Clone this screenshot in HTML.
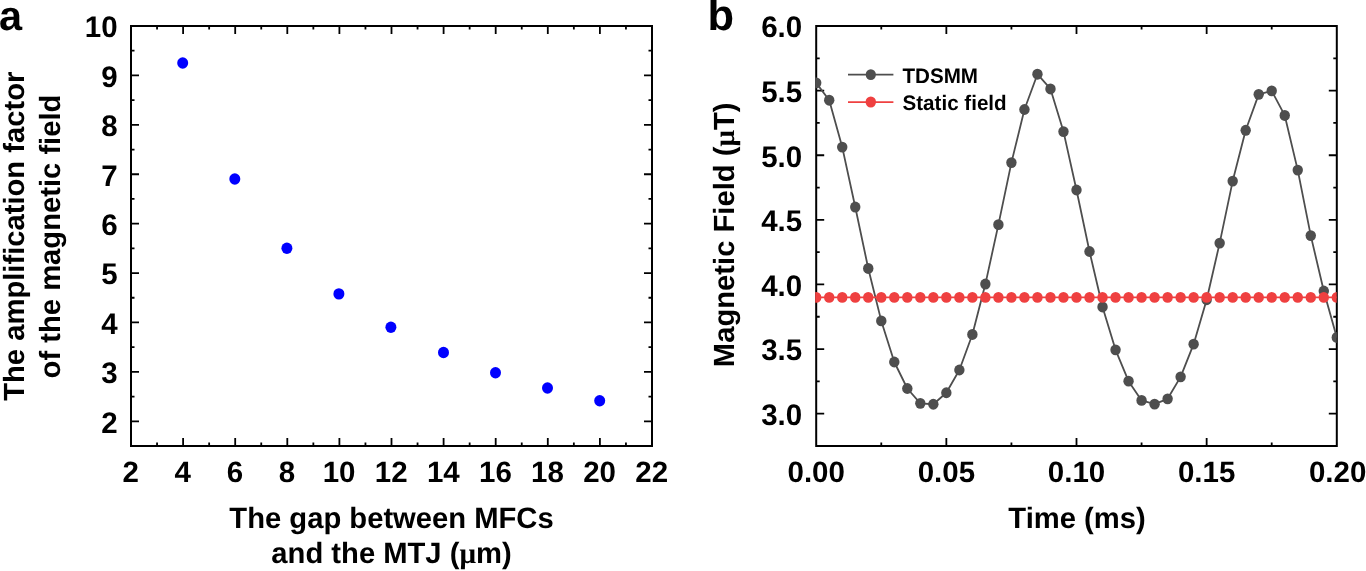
<!DOCTYPE html><html><head><meta charset="utf-8"><style>html,body{margin:0;padding:0;background:#fff;}body{width:1366px;height:571px;overflow:hidden;}svg{display:block;will-change:transform;}text{font-family:"Liberation Sans",sans-serif;font-weight:bold;fill:#000;text-rendering:geometricPrecision;}</style></head><body><svg width="1366" height="571" viewBox="0 0 1366 571"><rect width="1366" height="571" fill="#fff"/><path d="M183.1 446V438M183.1 26V34M235.2 446V438M235.2 26V34M287.3 446V438M287.3 26V34M339.4 446V438M339.4 26V34M391.5 446V438M391.5 26V34M443.6 446V438M443.6 26V34M495.7 446V438M495.7 26V34M547.8 446V438M547.8 26V34M599.9 446V438M599.9 26V34M157.05 446V442.5M157.05 26V29.5M209.15 446V442.5M209.15 26V29.5M261.25 446V442.5M261.25 26V29.5M313.35 446V442.5M313.35 26V29.5M365.45 446V442.5M365.45 26V29.5M417.55 446V442.5M417.55 26V29.5M469.65 446V442.5M469.65 26V29.5M521.75 446V442.5M521.75 26V29.5M573.85 446V442.5M573.85 26V29.5M625.95 446V442.5M625.95 26V29.5M131 421.29H139M652 421.29H644M131 371.88H139M652 371.88H644M131 322.47H139M652 322.47H644M131 273.06H139M652 273.06H644M131 223.65H139M652 223.65H644M131 174.24H139M652 174.24H644M131 124.82H139M652 124.82H644M131 75.41H139M652 75.41H644M131 396.59H134.5M652 396.59H648.5M131 347.18H134.5M652 347.18H648.5M131 297.76H134.5M652 297.76H648.5M131 248.35H134.5M652 248.35H648.5M131 198.94H134.5M652 198.94H648.5M131 149.53H134.5M652 149.53H648.5M131 100.12H134.5M652 100.12H648.5M131 50.71H134.5M652 50.71H648.5" stroke="#000" stroke-width="1.8" fill="none"/><rect x="131" y="26" width="521" height="420" fill="none" stroke="#000" stroke-width="2.0"/><ellipse cx="182.7" cy="63" rx="5.5" ry="5.7" fill="#0000ff"/><ellipse cx="234.8" cy="179" rx="5.5" ry="5.7" fill="#0000ff"/><ellipse cx="286.9" cy="248.3" rx="5.5" ry="5.7" fill="#0000ff"/><ellipse cx="338.9" cy="293.9" rx="5.5" ry="5.7" fill="#0000ff"/><ellipse cx="390.9" cy="327.3" rx="5.5" ry="5.7" fill="#0000ff"/><ellipse cx="443.5" cy="352.5" rx="5.5" ry="5.7" fill="#0000ff"/><ellipse cx="495.5" cy="372.7" rx="5.5" ry="5.7" fill="#0000ff"/><ellipse cx="547.5" cy="388" rx="5.5" ry="5.7" fill="#0000ff"/><ellipse cx="599.7" cy="400.8" rx="5.5" ry="5.7" fill="#0000ff"/><text transform="translate(117.6 432.59) scale(1 1.01)" font-size="29.5" text-anchor="end">2</text><text transform="translate(117.6 383.18) scale(1 1.01)" font-size="29.5" text-anchor="end">3</text><text transform="translate(117.6 333.77) scale(1 1.01)" font-size="29.5" text-anchor="end">4</text><text transform="translate(117.6 284.36) scale(1 1.01)" font-size="29.5" text-anchor="end">5</text><text transform="translate(117.6 234.95) scale(1 1.01)" font-size="29.5" text-anchor="end">6</text><text transform="translate(117.6 185.54) scale(1 1.01)" font-size="29.5" text-anchor="end">7</text><text transform="translate(117.6 136.12) scale(1 1.01)" font-size="29.5" text-anchor="end">8</text><text transform="translate(117.6 86.71) scale(1 1.01)" font-size="29.5" text-anchor="end">9</text><text transform="translate(117.6 37.3) scale(1 1.01)" font-size="29.5" text-anchor="end">10</text><text transform="translate(130.7 481.8) scale(1 1.0)" font-size="29.5" text-anchor="middle">2</text><text transform="translate(182.8 481.8) scale(1 1.0)" font-size="29.5" text-anchor="middle">4</text><text transform="translate(234.9 481.8) scale(1 1.0)" font-size="29.5" text-anchor="middle">6</text><text transform="translate(287 481.8) scale(1 1.0)" font-size="29.5" text-anchor="middle">8</text><text transform="translate(339.1 481.8) scale(1 1.0)" font-size="29.5" text-anchor="middle">10</text><text transform="translate(391.2 481.8) scale(1 1.0)" font-size="29.5" text-anchor="middle">12</text><text transform="translate(443.3 481.8) scale(1 1.0)" font-size="29.5" text-anchor="middle">14</text><text transform="translate(495.4 481.8) scale(1 1.0)" font-size="29.5" text-anchor="middle">16</text><text transform="translate(547.5 481.8) scale(1 1.0)" font-size="29.5" text-anchor="middle">18</text><text transform="translate(599.6 481.8) scale(1 1.0)" font-size="29.5" text-anchor="middle">20</text><text transform="translate(651.7 481.8) scale(1 1.0)" font-size="29.5" text-anchor="middle">22</text><text transform="translate(391.5 527.8) scale(1 1.01)" font-size="29.2" text-anchor="middle">The gap between MFCs</text><text transform="translate(391.5 563.3) scale(1 1.01)" font-size="29.2" text-anchor="middle">and the MTJ (<tspan style="font-family:'Liberation Serif'">μ</tspan>m)</text><text transform="translate(24.1 236.2) rotate(-90)" font-size="29.2" text-anchor="middle">The amplification factor</text><text transform="translate(59.6 236.5) rotate(-90)" font-size="29.2" text-anchor="middle">of the magnetic field</text><text x="-1.0" y="30.4" font-size="41.5">a</text><path d="M946.35 446V438M946.35 26V34M1076.5 446V438M1076.5 26V34M1206.65 446V438M1206.65 26V34M881.28 446V442.5M881.28 26V29.5M1011.43 446V442.5M1011.43 26V29.5M1141.58 446V442.5M1141.58 26V29.5M1271.72 446V442.5M1271.72 26V29.5M816.2 413.69H824.2M1336.8 413.69H1328.8M816.2 349.08H824.2M1336.8 349.08H1328.8M816.2 284.46H824.2M1336.8 284.46H1328.8M816.2 219.85H824.2M1336.8 219.85H1328.8M816.2 155.23H824.2M1336.8 155.23H1328.8M816.2 90.62H824.2M1336.8 90.62H1328.8M816.2 381.38H819.7M1336.8 381.38H1333.3M816.2 316.77H819.7M1336.8 316.77H1333.3M816.2 252.15H819.7M1336.8 252.15H1333.3M816.2 187.54H819.7M1336.8 187.54H1333.3M816.2 122.92H819.7M1336.8 122.92H1333.3M816.2 58.31H819.7M1336.8 58.31H1333.3" stroke="#000" stroke-width="1.8" fill="none"/><rect x="816.2" y="26" width="520.6" height="420" fill="none" stroke="#000" stroke-width="2.0"/><clipPath id="cb"><rect x="815.2" y="25" width="521.5" height="422"/></clipPath><g clip-path="url(#cb)"><polyline points="816.2,82.86 829.22,100.18 842.23,147.09 855.25,207.05 868.26,268.44 881.28,320.9 894.29,362 907.31,388.49 920.32,403.35 933.34,404.26 946.35,392.76 959.37,370.01 972.38,334.47 985.39,284.07 998.41,224.63 1011.42,162.6 1024.44,109.48 1037.45,74.2 1050.47,88.94 1063.49,131.58 1076.5,189.99 1089.51,251.51 1102.53,306.95 1115.55,349.85 1128.56,381.13 1141.58,400.38 1154.59,404.13 1167.61,398.83 1180.62,376.86 1193.63,344.17 1206.65,299.71 1219.66,243.11 1232.68,181.08 1245.69,130.29 1258.71,94.36 1271.72,90.87 1284.74,115.43 1297.75,170.09 1310.77,235.61 1323.78,291.05 1336.8,337.45" fill="none" stroke="#4e4e4e" stroke-width="1.8" stroke-linejoin="round"/><ellipse cx="816.2" cy="82.86" rx="5.2" ry="5.45" fill="#4e4e4e"/><ellipse cx="829.22" cy="100.18" rx="5.2" ry="5.45" fill="#4e4e4e"/><ellipse cx="842.23" cy="147.09" rx="5.2" ry="5.45" fill="#4e4e4e"/><ellipse cx="855.25" cy="207.05" rx="5.2" ry="5.45" fill="#4e4e4e"/><ellipse cx="868.26" cy="268.44" rx="5.2" ry="5.45" fill="#4e4e4e"/><ellipse cx="881.28" cy="320.9" rx="5.2" ry="5.45" fill="#4e4e4e"/><ellipse cx="894.29" cy="362" rx="5.2" ry="5.45" fill="#4e4e4e"/><ellipse cx="907.31" cy="388.49" rx="5.2" ry="5.45" fill="#4e4e4e"/><ellipse cx="920.32" cy="403.35" rx="5.2" ry="5.45" fill="#4e4e4e"/><ellipse cx="933.34" cy="404.26" rx="5.2" ry="5.45" fill="#4e4e4e"/><ellipse cx="946.35" cy="392.76" rx="5.2" ry="5.45" fill="#4e4e4e"/><ellipse cx="959.37" cy="370.01" rx="5.2" ry="5.45" fill="#4e4e4e"/><ellipse cx="972.38" cy="334.47" rx="5.2" ry="5.45" fill="#4e4e4e"/><ellipse cx="985.39" cy="284.07" rx="5.2" ry="5.45" fill="#4e4e4e"/><ellipse cx="998.41" cy="224.63" rx="5.2" ry="5.45" fill="#4e4e4e"/><ellipse cx="1011.42" cy="162.6" rx="5.2" ry="5.45" fill="#4e4e4e"/><ellipse cx="1024.44" cy="109.48" rx="5.2" ry="5.45" fill="#4e4e4e"/><ellipse cx="1037.45" cy="74.2" rx="5.2" ry="5.45" fill="#4e4e4e"/><ellipse cx="1050.47" cy="88.94" rx="5.2" ry="5.45" fill="#4e4e4e"/><ellipse cx="1063.49" cy="131.58" rx="5.2" ry="5.45" fill="#4e4e4e"/><ellipse cx="1076.5" cy="189.99" rx="5.2" ry="5.45" fill="#4e4e4e"/><ellipse cx="1089.51" cy="251.51" rx="5.2" ry="5.45" fill="#4e4e4e"/><ellipse cx="1102.53" cy="306.95" rx="5.2" ry="5.45" fill="#4e4e4e"/><ellipse cx="1115.55" cy="349.85" rx="5.2" ry="5.45" fill="#4e4e4e"/><ellipse cx="1128.56" cy="381.13" rx="5.2" ry="5.45" fill="#4e4e4e"/><ellipse cx="1141.58" cy="400.38" rx="5.2" ry="5.45" fill="#4e4e4e"/><ellipse cx="1154.59" cy="404.13" rx="5.2" ry="5.45" fill="#4e4e4e"/><ellipse cx="1167.61" cy="398.83" rx="5.2" ry="5.45" fill="#4e4e4e"/><ellipse cx="1180.62" cy="376.86" rx="5.2" ry="5.45" fill="#4e4e4e"/><ellipse cx="1193.63" cy="344.17" rx="5.2" ry="5.45" fill="#4e4e4e"/><ellipse cx="1206.65" cy="299.71" rx="5.2" ry="5.45" fill="#4e4e4e"/><ellipse cx="1219.66" cy="243.11" rx="5.2" ry="5.45" fill="#4e4e4e"/><ellipse cx="1232.68" cy="181.08" rx="5.2" ry="5.45" fill="#4e4e4e"/><ellipse cx="1245.69" cy="130.29" rx="5.2" ry="5.45" fill="#4e4e4e"/><ellipse cx="1258.71" cy="94.36" rx="5.2" ry="5.45" fill="#4e4e4e"/><ellipse cx="1271.72" cy="90.87" rx="5.2" ry="5.45" fill="#4e4e4e"/><ellipse cx="1284.74" cy="115.43" rx="5.2" ry="5.45" fill="#4e4e4e"/><ellipse cx="1297.75" cy="170.09" rx="5.2" ry="5.45" fill="#4e4e4e"/><ellipse cx="1310.77" cy="235.61" rx="5.2" ry="5.45" fill="#4e4e4e"/><ellipse cx="1323.78" cy="291.05" rx="5.2" ry="5.45" fill="#4e4e4e"/><ellipse cx="1336.8" cy="337.45" rx="5.2" ry="5.45" fill="#4e4e4e"/><path d="M816.2 297.38H1336.8" stroke="#ef4040" stroke-width="1.8"/><ellipse cx="816.2" cy="297.38" rx="5.2" ry="5.45" fill="#ef4040"/><ellipse cx="829.22" cy="297.38" rx="5.2" ry="5.45" fill="#ef4040"/><ellipse cx="842.23" cy="297.38" rx="5.2" ry="5.45" fill="#ef4040"/><ellipse cx="855.25" cy="297.38" rx="5.2" ry="5.45" fill="#ef4040"/><ellipse cx="868.26" cy="297.38" rx="5.2" ry="5.45" fill="#ef4040"/><ellipse cx="881.28" cy="297.38" rx="5.2" ry="5.45" fill="#ef4040"/><ellipse cx="894.29" cy="297.38" rx="5.2" ry="5.45" fill="#ef4040"/><ellipse cx="907.31" cy="297.38" rx="5.2" ry="5.45" fill="#ef4040"/><ellipse cx="920.32" cy="297.38" rx="5.2" ry="5.45" fill="#ef4040"/><ellipse cx="933.34" cy="297.38" rx="5.2" ry="5.45" fill="#ef4040"/><ellipse cx="946.35" cy="297.38" rx="5.2" ry="5.45" fill="#ef4040"/><ellipse cx="959.37" cy="297.38" rx="5.2" ry="5.45" fill="#ef4040"/><ellipse cx="972.38" cy="297.38" rx="5.2" ry="5.45" fill="#ef4040"/><ellipse cx="985.39" cy="297.38" rx="5.2" ry="5.45" fill="#ef4040"/><ellipse cx="998.41" cy="297.38" rx="5.2" ry="5.45" fill="#ef4040"/><ellipse cx="1011.42" cy="297.38" rx="5.2" ry="5.45" fill="#ef4040"/><ellipse cx="1024.44" cy="297.38" rx="5.2" ry="5.45" fill="#ef4040"/><ellipse cx="1037.45" cy="297.38" rx="5.2" ry="5.45" fill="#ef4040"/><ellipse cx="1050.47" cy="297.38" rx="5.2" ry="5.45" fill="#ef4040"/><ellipse cx="1063.49" cy="297.38" rx="5.2" ry="5.45" fill="#ef4040"/><ellipse cx="1076.5" cy="297.38" rx="5.2" ry="5.45" fill="#ef4040"/><ellipse cx="1089.51" cy="297.38" rx="5.2" ry="5.45" fill="#ef4040"/><ellipse cx="1102.53" cy="297.38" rx="5.2" ry="5.45" fill="#ef4040"/><ellipse cx="1115.55" cy="297.38" rx="5.2" ry="5.45" fill="#ef4040"/><ellipse cx="1128.56" cy="297.38" rx="5.2" ry="5.45" fill="#ef4040"/><ellipse cx="1141.58" cy="297.38" rx="5.2" ry="5.45" fill="#ef4040"/><ellipse cx="1154.59" cy="297.38" rx="5.2" ry="5.45" fill="#ef4040"/><ellipse cx="1167.61" cy="297.38" rx="5.2" ry="5.45" fill="#ef4040"/><ellipse cx="1180.62" cy="297.38" rx="5.2" ry="5.45" fill="#ef4040"/><ellipse cx="1193.63" cy="297.38" rx="5.2" ry="5.45" fill="#ef4040"/><ellipse cx="1206.65" cy="297.38" rx="5.2" ry="5.45" fill="#ef4040"/><ellipse cx="1219.66" cy="297.38" rx="5.2" ry="5.45" fill="#ef4040"/><ellipse cx="1232.68" cy="297.38" rx="5.2" ry="5.45" fill="#ef4040"/><ellipse cx="1245.69" cy="297.38" rx="5.2" ry="5.45" fill="#ef4040"/><ellipse cx="1258.71" cy="297.38" rx="5.2" ry="5.45" fill="#ef4040"/><ellipse cx="1271.72" cy="297.38" rx="5.2" ry="5.45" fill="#ef4040"/><ellipse cx="1284.74" cy="297.38" rx="5.2" ry="5.45" fill="#ef4040"/><ellipse cx="1297.75" cy="297.38" rx="5.2" ry="5.45" fill="#ef4040"/><ellipse cx="1310.77" cy="297.38" rx="5.2" ry="5.45" fill="#ef4040"/><ellipse cx="1323.78" cy="297.38" rx="5.2" ry="5.45" fill="#ef4040"/><ellipse cx="1336.8" cy="297.38" rx="5.2" ry="5.45" fill="#ef4040"/></g><path d="M848 74.7H893.4" stroke="#4e4e4e" stroke-width="1.8"/><ellipse cx="870.8" cy="74.6" rx="5.1" ry="5.4" fill="#4e4e4e"/><path d="M848 102.2H893.4" stroke="#ef4040" stroke-width="1.8"/><ellipse cx="870.8" cy="102" rx="5.2" ry="5.6" fill="#ef4040"/><text transform="translate(902.5 83) scale(1 1.02)" font-size="20.6">TDSMM</text><text transform="translate(902.5 110) scale(1 1.02)" font-size="20.6">Static field</text><text transform="translate(802.2 424.99) scale(1 1.01)" font-size="29.5" text-anchor="end">3.0</text><text transform="translate(802.2 360.38) scale(1 1.01)" font-size="29.5" text-anchor="end">3.5</text><text transform="translate(802.2 295.76) scale(1 1.01)" font-size="29.5" text-anchor="end">4.0</text><text transform="translate(802.2 231.15) scale(1 1.01)" font-size="29.5" text-anchor="end">4.5</text><text transform="translate(802.2 166.53) scale(1 1.01)" font-size="29.5" text-anchor="end">5.0</text><text transform="translate(802.2 101.92) scale(1 1.01)" font-size="29.5" text-anchor="end">5.5</text><text transform="translate(802.2 37.3) scale(1 1.01)" font-size="29.5" text-anchor="end">6.0</text><text transform="translate(816.2 482.2) scale(1 1.0)" font-size="29.5" text-anchor="middle">0.00</text><text transform="translate(946.35 482.2) scale(1 1.0)" font-size="29.5" text-anchor="middle">0.05</text><text transform="translate(1076.5 482.2) scale(1 1.0)" font-size="29.5" text-anchor="middle">0.10</text><text transform="translate(1206.65 482.2) scale(1 1.0)" font-size="29.5" text-anchor="middle">0.15</text><text transform="translate(1337.6 482.2) scale(1 1.0)" font-size="29.5" text-anchor="middle">0.20</text><text transform="translate(1077 528.1) scale(1 1.01)" font-size="29.2" text-anchor="middle">Time (ms)</text><text transform="translate(734 234.8) rotate(-90)" font-size="29.2" text-anchor="middle">Magnetic Field (<tspan style="font-family:'Liberation Serif'">μ</tspan>T)</text><text x="707.4" y="29.8" font-size="43.5">b</text></svg></body></html>
